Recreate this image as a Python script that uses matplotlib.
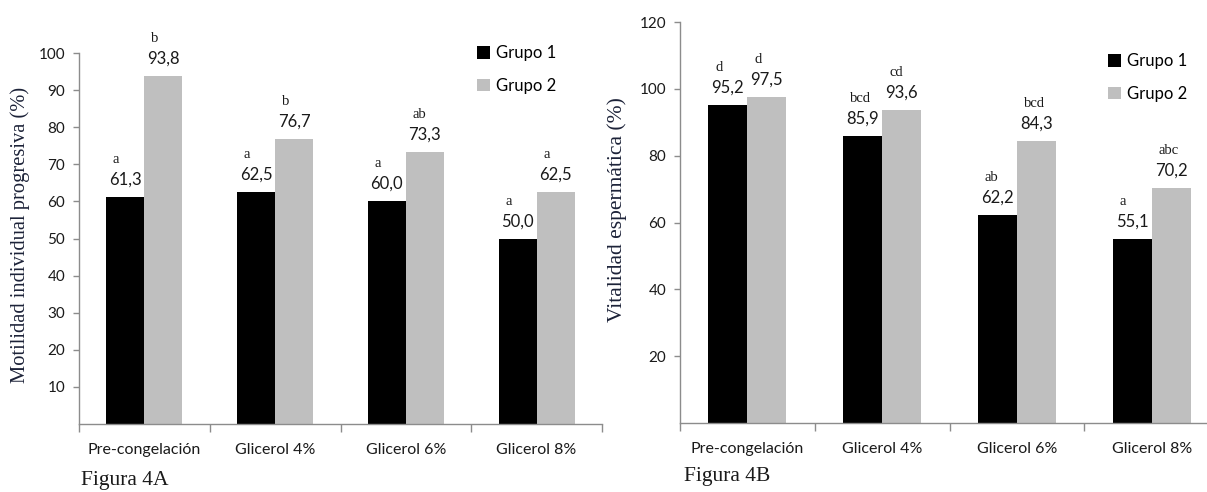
import numpy as np
import matplotlib
matplotlib.use('Agg')
import matplotlib.pyplot as plt
from matplotlib.patches import Patch

# datos
categorias = ['Pre-congelación', 'Glicerol 4%', 'Glicerol 6%', 'Glicerol 8%']
grupos = ['Grupo 1', 'Grupo 2']

motilidad_g1 = [61.3, 62.5, 60.0, 50.0]
motilidad_g2 = [93.8, 76.7, 73.3, 62.5]
letras_mot_g1 = ['a', 'a', 'a', 'a']
letras_mot_g2 = ['b', 'b', 'ab', 'a']

vitalidad_g1 = [95.2, 85.9, 62.2, 55.1]
vitalidad_g2 = [97.5, 93.6, 84.3, 70.2]
letras_vit_g1 = ['d', 'bcd', 'ab', 'a']
letras_vit_g2 = ['d', 'cd', 'bcd', 'abc']

SANS = ['Lato', 'DejaVu Sans']
SERIF = ['Liberation Serif', 'DejaVu Serif']
AXIS_GRAY = '#8c8c8c'
BAR_GRAY = '#bfbfbf'
LABEL_COLOR = '#1c2238'
TXT = '#1a1a1a'

W, H = 1207, 492
fig = plt.figure(figsize=(W / 100, H / 100), dpi=100)


def panel(rect, g1, g2, l1, l2, ylim, yticks, ylabel, ylabel_xy, ylabel_size,
          figura, figura_xy, legend_xy):
    ax = fig.add_axes(rect)
    x = np.arange(len(categorias))
    w = 0.29
    b1 = ax.bar(x - w / 2, g1, w, color='black', zorder=2)
    b2 = ax.bar(x + w / 2, g2, w, color=BAR_GRAY, zorder=2)

    for bars, vals, letras in ((b1, g1, l1), (b2, g2, l2)):
        for r, v, le in zip(bars, vals, letras):
            cx = r.get_x() + r.get_width() / 2
            txt = f'{v:.1f}'.replace('.', ',')
            ax.annotate(txt, (cx, v), xytext=(0, 12.5), textcoords='offset points',
                        ha='center', va='center', fontsize=12, family=SANS, color=TXT)
            ax.annotate(le, (cx, v), xytext=(-9, 27), textcoords='offset points',
                        ha='left', va='center', fontsize=10.5, family=SERIF, color=TXT)

    ax.set_xlim(-0.5, len(categorias) - 0.5)
    ax.set_ylim(*ylim)
    ax.set_yticks(yticks)
    ax.set_yticklabels([str(t) for t in yticks], family=SANS, fontsize=11, color=TXT)
    ax.set_xticks(np.arange(-0.5, len(categorias)), minor=False)
    ax.set_xticklabels([])
    ax.set_xticks(x, minor=True)
    ax.set_xticklabels(categorias, minor=True, family=SANS, fontsize=11.5, color=TXT)
    ax.tick_params(axis='x', which='major', direction='out', length=6, color=AXIS_GRAY, width=1)
    ax.tick_params(axis='x', which='minor', length=0, pad=14)
    ax.tick_params(axis='y', direction='out', length=4, color=AXIS_GRAY, width=1, pad=6)

    for s in ('top', 'right'):
        ax.spines[s].set_visible(False)
    for s in ('left', 'bottom'):
        ax.spines[s].set_color(AXIS_GRAY)
        ax.spines[s].set_linewidth(1)

    fig.text(ylabel_xy[0], ylabel_xy[1], ylabel, rotation=90, ha='center', va='center',
             family=SERIF, fontsize=ylabel_size, color=LABEL_COLOR)
    fig.text(figura_xy[0], figura_xy[1], figura, ha='left', va='center',
             family=SERIF, fontsize=15.5, color=TXT)

    handles = [Patch(facecolor='black'), Patch(facecolor=BAR_GRAY)]
    fig.legend(handles, grupos, loc='upper left', bbox_to_anchor=legend_xy,
               bbox_transform=fig.transFigure, frameon=False, borderpad=0,
               handlelength=0.75, handleheight=0.75, handletextpad=0.35,
               labelspacing=1.0, prop={'family': SANS, 'size': 12})
    return ax


panel([79 / W, 1 - 424 / H, (602 - 79) / W, (424 - 53) / H],
      motilidad_g1, motilidad_g2, letras_mot_g1, letras_mot_g2,
      (0, 100), list(range(10, 101, 10)),
      'Motilidad individual progresiva (%)', (20 / W, 1 - 235 / H), 14.8,
      'Figura 4A', (81 / W, 1 - 481 / H), (469 / W, 1 - 37 / H))

panel([680 / W, 1 - 423 / H, (1219 - 680) / W, (423 - 22) / H],
      vitalidad_g1, vitalidad_g2, letras_vit_g1, letras_vit_g2,
      (0, 120), list(range(20, 121, 20)),
      'Vitalidad espermática (%)', (617 / W, 1 - 210 / H), 15.5,
      'Figura 4B', (684 / W, 1 - 476 / H), (1100 / W, 1 - 45 / H))

fig.savefig('out.png', dpi=100, facecolor='white')
